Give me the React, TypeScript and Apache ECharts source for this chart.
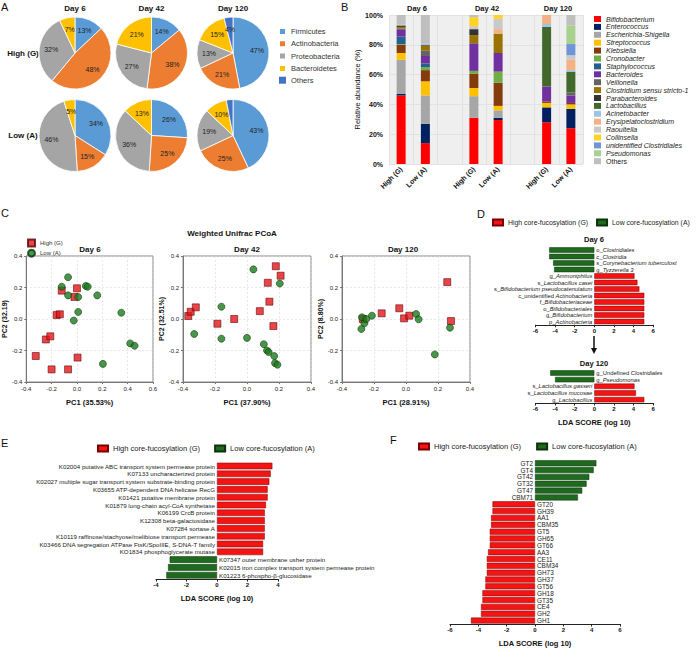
import React, { useEffect, useRef } from 'react';
import * as echarts from 'echarts';

const FONT = '"Liberation Sans", Arial, Helvetica, sans-serif';

// ---------- Panel A ----------
const phyla = ['Firmicutes', 'Actinobacteria', 'Proteobacteria', 'Bacteroidetes', 'Others'];
const phylaColors = ['#5B9BD5', '#ED7D31', '#A5A5A5', '#FFC000', '#4472C4'];
const pieDays = ['Day 6', 'Day 42', 'Day 120'];
const pieRows = ['High (G)', 'Low (A)'];
const pieHighG = [[13, 48, 32, 7, 0], [14, 38, 27, 21, 0], [47, 21, 13, 15, 4]];
const pieLowA = [[34, 15, 46, 5, 0], [26, 25, 36, 13, 0], [43, 25, 19, 10, 3]];

// ---------- Panel B ----------
const genera = [
  'Bifidobacterium', 'Enterococcus', 'Escherichia-Shigella', 'Streptococcus', 'Klebsiella',
  'Cronobacter', 'Staphylococcus', 'Bacteroides', 'Veillonella', 'Clostridium sensu stricto-1',
  'Parabacteroides', 'Lactobacillus', 'Acinetobacter', 'Erysipelatoclostridium', 'Raoultella',
  'Collinsella', 'unidentified Clostridiales', 'Pseudomonas', 'Others',
];
const generaColors = [
  '#FF0000', '#002060', '#A6A6A6', '#FFC000', '#843C0C',
  '#70AD47', '#255E91', '#7030A0', '#636363', '#997300',
  '#333333', '#43682B', '#9DC3E6', '#F4B183', '#C9C9C9',
  '#FFD320', '#6F95D8', '#A9D18E', '#BFBFBF',
];
const barSlots = ['D6G', 'D6A', 'gap1', 'D42G', 'D42A', 'gap2', 'D120G', 'D120A'];
const barSlotLabels = ['High (G)', 'Low (A)', '', 'High (G)', 'Low (A)', '', 'High (G)', 'Low (A)'];
const barDays = ['Day 6', 'Day 42', 'Day 120'];
const day6G = [46, 1, 23, 4.5, 5.5, 0.5, 5, 4.5, 1, 1, 1, 0, 0, 0, 1, 0, 0, 0, 6];
const day6A = [14, 13, 19, 9.5, 7.5, 2, 2.5, 5, 3.5, 3.5, 0.5, 0, 1, 0, 0, 0, 0, 0, 19];
const day42G = [31, 0, 14.5, 5.5, 9.5, 2, 0, 18.5, 0, 5.5, 4, 0, 0, 0, 2, 6, 0, 0, 1.5];
const day42A = [29.5, 1.5, 5, 3, 15.5, 7.5, 0, 12.5, 0, 13, 0, 0, 0, 3, 7, 2.5, 0, 0, 0];
const day120G = [28, 10, 0, 3, 1, 0, 0, 10, 0, 0, 0, 40, 2, 6, 0, 0, 0, 0, 0];
const day120A = [24, 13, 0, 3, 1, 0, 0, 5, 2, 0, 0, 14, 1, 7, 3, 0, 7.5, 12.5, 7];

// ---------- Panel C ----------
const pcoaDays = ['Day 6', 'Day 42', 'Day 120'];
const pc1Labels = ['PC1 (35.53%)', 'PC1 (37.90%)', 'PC1 (28.91%)'];
const pc2Labels = ['PC2 (32.19)', 'PC2 (32.51%)', 'PC2 (8.80%)'];
const day6High = [[-0.12, 0.18], [0.0, 0.195], [-0.02, 0.14], [-0.16, 0.025], [-0.135, 0.03], [-0.245, -0.13], [-0.21, -0.11], [-0.325, -0.235], [-0.2, -0.32], [-0.07, -0.32], [0.005, -0.245]];
const day6Low = [[-0.07, 0.265], [-0.12, 0.205], [-0.07, 0.15], [0.01, 0.14], [0.07, 0.21], [0.085, 0.205], [0.16, 0.15], [0.01, 0.045], [-0.025, -0.01], [0.35, 0.04], [0.42, -0.155], [0.455, -0.17], [0.205, -0.285]];
const day42High = [[0.18, 0.335], [0.21, 0.275], [0.13, 0.23], [0.14, 0.11], [0.08, 0.05], [-0.08, 0.0], [-0.367, 0.019], [-0.352, 0.046], [-0.32, 0.074], [-0.185, -0.03], [0.165, -0.045]];
const day42Low = [[0.04, 0.315], [0.205, 0.225], [-0.16, 0.078], [-0.33, -0.095], [-0.16, -0.125], [0.0, -0.12], [0.105, -0.16], [0.125, -0.2], [0.135, -0.21], [0.17, -0.235], [0.175, -0.28], [0.19, -0.29]];
const day120High = [[-0.27, 0.0], [-0.152, 0.036], [-0.042, 0.068], [-0.012, 0.004], [0.021, 0.021], [0.258, 0.234], [0.281, -0.013]];
const day120Low = [[-0.275, 0.011], [-0.26, -0.027], [-0.248, 0.0], [-0.213, 0.021], [0.063, 0.032], [0.079, -0.002], [0.275, -0.055], [-0.279, -0.063], [0.18, -0.225]];

// ---------- Panel D ----------
const ldaDay6Labels = ['o_Clostridiales', 'c_Clostridia', 's_Corynebacterium tuberculost', 'g_Tyzzerella 3', 'g_Ammoniphilus', 's_Lactobacillus casei', 's_Bifidobacterium pseudocatenulatum', 'c_unidentified Actinobacteria', 'f_Bifidobacteriaceae', 'o_Bifidobacteriales', 'g_Bifidobacterium', 'p_Actinobacteria'];
const ldaDay6Values = [-4.6, -4.6, -4.2, -4.1, 4.1, 4.4, 4.6, 5.1, 5.1, 5.1, 5.1, 5.1];
const ldaDay120Labels = ['g_Undefined Clostridiales', 'g_Pseudomonas', 's_Lactobacillus gasseri', 's_Lactobacillus mucosae', 'g_Lactobacillus'];
const ldaDay120Values = [-4.5, -4.0, 4.1, 4.25, 5.1];

// ---------- Panel E ----------
const keggLabels = [
  'K02004 putative ABC transport system permease protein', 'K07133 uncharacterized protein',
  'K02027 multiple sugar transport system substrate-binding protein', 'K03655 ATP-dependent DNA helicase RecG',
  'K01421 putative membrane protein', 'K01879 long-chain acyl-CoA synthetase', 'K06199 CrcB protein',
  'K12308 beta-galactosidase', 'K07284 sortase A', 'K10119 raffinose/stachyose/melibiose transport permease',
  'K03466 DNA segregation ATPase FtsK/SpoIIIE, S-DNA-T family', 'KO1834 phosphoglycerate mutase',
  'K07347 outer membrane usher protein', 'K02015 iron complex transport system permease protein',
  'K01223 6-phospho-β-glucosidase',
];
const keggValues = [3.63, 3.52, 3.43, 3.32, 3.32, 3.21, 3.13, 3.13, 3.13, 3.13, 3.02, 3.02, -3.1, -3.21, -3.32];

// ---------- Panel F ----------
const cazyLabels = ['GT2', 'GT4', 'GT42', 'GT32', 'GT47', 'CBM71', 'GT20', 'GH39', 'AA1', 'CBM35', 'GT5', 'GH65', 'GT66', 'AA3', 'CE11', 'CBM34', 'GH73', 'GH37', 'GT56', 'GH18', 'GT35', 'CE4', 'GH2', 'GH1'];
const cazyValues = [4.33, 4.14, 3.83, 3.64, 3.33, 3.03, -3.0, -3.0, -3.1, -3.1, -3.19, -3.19, -3.19, -3.31, -3.4, -3.4, -3.4, -3.5, -3.5, -3.71, -3.71, -3.81, -3.81, -4.52];

const HIGH = 'High core-fucosylation (G)';
const LOW = 'Low core-fucosylation (A)';
const RED = '#F41414';
const GREEN = '#1F6A1F';

function richName(name: string) {
  const m = name.match(/^([a-z]_)((?:unidentified|Undefined) )?(.*)$/);
  if (!m) return name;
  return `{n|${m[1]}${m[2] || ''}}{i|${m[3]}}`;
}

function buildOption() {
  const T = (text: string, x: number, y: number, size: number, weight = 'normal', align = 'center') => ({
    type: 'text', x, y, silent: true,
    style: { text, fontSize: size, fontWeight: weight, fontFamily: FONT, fill: '#111', align, verticalAlign: 'middle' },
  });

  const series: any[] = [];
  const grid: any[] = [];
  const xAxis: any[] = [];
  const yAxis: any[] = [];

  // ----- A: pies -----
  const pieCx = [75, 151.5, 233];
  const pieCy = [53, 135.5];
  const R = 36;
  [pieHighG, pieLowA].forEach((rowData, r) => {
    rowData.forEach((vals, d) => {
      const items = vals.map((v, i) => ({ name: phyla[i], value: v, color: phylaColors[i] })).filter((o) => o.value > 0);
      series.push({
        type: 'pie', name: `${pieRows[r]} ${pieDays[d]}`, center: [pieCx[d], pieCy[r]], radius: R,
        startAngle: 90, clockwise: true, silent: true,
        label: { show: false }, labelLine: { show: false },
        itemStyle: { borderColor: '#fff', borderWidth: 0.8 },
        data: items.map((o) => ({ name: o.name, value: o.value, itemStyle: { color: o.color } })),
      });
      // label-only ring so that the percentages sit a little further out, as in the reference
      series.push({
        type: 'pie', name: `${pieRows[r]} ${pieDays[d]} labels`, center: [pieCx[d], pieCy[r]], radius: [10, 32],
        startAngle: 90, clockwise: true, silent: true, z: 3,
        label: { show: true, position: 'inside', formatter: '{c}%', fontSize: 7, color: '#222', fontFamily: FONT },
        labelLine: { show: false },
        itemStyle: { color: 'rgba(0,0,0,0)', borderWidth: 0 },
        data: items.map((o) => ({ name: o.name, value: o.value })),
      });
    });
  });

  // ----- B: stacked bars -----
  grid.push({ left: 389, top: 15, width: 194, height: 149, show: true, backgroundColor: '#efefef', borderWidth: 0 });
  xAxis.push({
    gridIndex: 0, type: 'category', data: barSlots,
    axisLine: { show: false }, axisTick: { show: false },
    splitLine: { show: true, interval: 0, lineStyle: { color: '#e2e2e2', width: 1 } },
    axisLabel: {
      interval: 0, rotate: 45, fontSize: 7, fontWeight: 'bold', color: '#111', margin: 4, fontFamily: FONT,
      formatter: (v: string) => barSlotLabels[barSlots.indexOf(v)],
    },
  });
  yAxis.push({
    gridIndex: 0, type: 'value', min: 0, max: 100, interval: 20,
    axisLine: { show: false }, axisTick: { show: false },
    splitLine: { show: true, lineStyle: { color: '#e2e2e2' } },
    axisLabel: { formatter: '{value}%', fontSize: 7, fontWeight: 'bold', color: '#111', margin: 6, fontFamily: FONT },
    name: 'Relative abundance (%)', nameLocation: 'middle', nameGap: 24, nameRotate: 90,
    nameTextStyle: { fontSize: 7.5, color: '#111', fontFamily: FONT },
  });
  const samples = [day6G, day6A, null, day42G, day42A, null, day120G, day120A];
  genera.forEach((g, i) => {
    series.push({
      type: 'bar', name: g, stack: 'B', xAxisIndex: 0, yAxisIndex: 0, barWidth: 9, silent: true,
      itemStyle: { color: generaColors[i] },
      data: samples.map((s) => (s ? s[i] : '-')),
    });
  });

  // ----- C: PCoA scatter -----
  const cLeft = [26, 183, 342];
  const cWidth = [127, 128, 128];
  const cMax = [0.6, 0.4, 0.4];
  const highSets = [day6High, day42High, day120High];
  const lowSets = [day6Low, day42Low, day120Low];
  const fmt1 = (v: number) => (Math.abs(v) < 1e-9 ? '0.0' : v.toFixed(1));
  for (let d = 0; d < 3; d++) {
    const gi = grid.length;
    grid.push({ left: cLeft[d], top: 256, width: cWidth[d], height: 126, show: true, borderColor: '#888', borderWidth: 1 });
    xAxis.push({
      gridIndex: gi, type: 'value', min: -0.4, max: cMax[d], interval: 0.2,
      axisLine: { show: true, onZero: false, lineStyle: { color: '#777' } },
      axisTick: { show: true, length: 2, lineStyle: { color: '#777' } },
      splitLine: { show: true, lineStyle: { color: '#d8d8d8', type: [2, 2], width: 0.6 } },
      axisLabel: { fontSize: 6, color: '#222', margin: 4, formatter: fmt1, fontFamily: FONT },
      name: pc1Labels[d], nameLocation: 'middle', nameGap: 16,
      nameTextStyle: { fontSize: 7.5, fontWeight: 'bold', color: '#111', fontFamily: FONT },
    });
    yAxis.push({
      gridIndex: gi, type: 'value', min: -0.4, max: 0.4, interval: 0.2,
      axisLine: { show: true, onZero: false, lineStyle: { color: '#777' } },
      axisTick: { show: true, length: 2, lineStyle: { color: '#777' } },
      splitLine: { show: true, lineStyle: { color: '#d8d8d8', type: [2, 2], width: 0.6 } },
      axisLabel: { fontSize: 6, color: '#222', margin: 4, formatter: fmt1, fontFamily: FONT },
      name: pc2Labels[d], nameLocation: 'middle', nameGap: 18, nameRotate: 90,
      nameTextStyle: { fontSize: 7, fontWeight: 'bold', color: '#111', fontFamily: FONT },
    });
    series.push({
      type: 'scatter', name: 'High (G)', xAxisIndex: gi, yAxisIndex: gi, symbol: 'rect', symbolSize: 7, silent: true,
      itemStyle: { color: '#E4161C', borderColor: '#5a0000', borderWidth: 0.7 },
      data: highSets[d],
    });
    series.push({
      type: 'scatter', name: 'Low (A)', xAxisIndex: gi, yAxisIndex: gi, symbol: 'circle', symbolSize: 7, silent: true,
      itemStyle: { color: '#1B7A1B', borderColor: '#0b360b', borderWidth: 0.7 },
      data: lowSets[d],
    });
  }

  // ----- LDA helper -----
  const addLda = (
    gDef: any, labels: string[], values: number[], posIsHigh: boolean, barW: number, fontSize: number,
    min: number, max: number, axisName: string | null, rich: boolean,
  ) => {
    const gi = grid.length;
    grid.push(gDef);
    xAxis.push({
      gridIndex: gi, type: 'value', min, max, interval: 2,
      axisLine: { show: true, onZero: false, lineStyle: { color: '#222', width: 1 } },
      axisTick: { show: true, length: 2.5, lineStyle: { color: '#222' } },
      splitLine: { show: false },
      axisLabel: { fontSize: 6, fontWeight: 'bold', color: '#111', margin: 3, fontFamily: FONT },
      name: axisName || '', nameLocation: 'middle', nameGap: 15,
      nameTextStyle: { fontSize: 7.5, fontWeight: 'bold', color: '#111', fontFamily: FONT },
    });
    yAxis.push({
      gridIndex: gi, type: 'category', data: labels, inverse: true,
      axisLine: { show: false }, axisTick: { show: false }, axisLabel: { show: false }, splitLine: { show: false },
    });
    const mk = (positive: boolean) => {
      const isHigh = positive === posIsHigh;
      return {
        type: 'bar', name: isHigh ? HIGH : LOW, xAxisIndex: gi, yAxisIndex: gi, barWidth: barW, barGap: '-100%', silent: true,
        itemStyle: { color: isHigh ? RED : GREEN, borderColor: isHigh ? '#7a0000' : '#0b330b', borderWidth: 0.5 },
        label: {
          show: true, position: positive ? 'left' : 'right', distance: 2, fontSize, color: '#222', fontFamily: FONT,
          formatter: (p: any) => (rich ? richName(p.name) : p.name),
          rich: rich
            ? { n: { fontSize, color: '#222', fontFamily: FONT }, i: { fontSize, fontStyle: 'italic', color: '#222', fontFamily: FONT } }
            : undefined,
        },
        data: values.map((v) => (positive ? (v > 0 ? v : '-') : (v < 0 ? v : '-'))),
      };
    };
    series.push(mk(true));
    series.push(mk(false));
  };

  addLda({ left: 535.5, top: 246.75, width: 117.6, height: 78 }, ldaDay6Labels, ldaDay6Values, true, 5.4, 5.8, -6, 6, null, true);
  addLda({ left: 535.5, top: 369.6, width: 117.6, height: 33.4 }, ldaDay120Labels, ldaDay120Values, true, 5.4, 5.8, -6, 6, 'LDA SCORE (log 10)', true);
  addLda({ left: 156, top: 462.1, width: 122, height: 117 }, keggLabels, keggValues, true, 6.6, 6.2, -4, 4, 'LDA SCORE (log 10)', false);
  addLda({ left: 450, top: 459.8, width: 170, height: 168.5 }, cazyLabels, cazyValues, false, 6, 6.4, -6, 6, 'LDA SCORE (log 10)', false);

  const ldaLegend = (left: number, top: number, gap: number, size: number) => ({
    data: [HIGH, LOW], left, top, width: 260, padding: 0, orient: 'horizontal', icon: 'rect', itemWidth: 10, itemHeight: 6, itemGap: gap,
    selectedMode: false, textStyle: { fontSize: size, color: '#222', fontFamily: FONT },
  });

  const legend = [
    {
      data: phyla.map((p, i) => ({ name: p, itemStyle: { color: phylaColors[i] } })),
      orient: 'vertical', left: 278, top: 27, padding: 0, icon: 'rect', itemWidth: 7, itemHeight: 7, itemGap: 3.3, selectedMode: false,
      textStyle: { fontSize: 7.5, color: '#333', fontFamily: FONT },
    },
    {
      data: genera.map((g, i) => ({ name: g, itemStyle: { color: generaColors[i] } })),
      orient: 'vertical', left: 594, top: 15.5, padding: 0, icon: 'rect', itemWidth: 7, itemHeight: 6, itemGap: 0.9, selectedMode: false,
      formatter: (n: string) => (n === 'Others' ? `{n|${n}}` : n),
      textStyle: {
        fontSize: 7, lineHeight: 7, fontStyle: 'italic', color: '#222', fontFamily: FONT,
        rich: { n: { fontSize: 7, lineHeight: 7, fontStyle: 'normal', color: '#222', fontFamily: FONT } },
      },
    },
    {
      data: ['High (G)', 'Low (A)'], orient: 'vertical', left: 27, top: 238.5, padding: 0, itemWidth: 7, itemHeight: 7, itemGap: 1.2,
      selectedMode: false, textStyle: { fontSize: 6, color: '#333', fontFamily: FONT },
    },
    ldaLegend(492, 218.5, 8, 6.9),
    ldaLegend(97, 444.5, 14, 7.5),
    ldaLegend(418, 442.5, 15, 7.5),
  ];

  const graphic: any[] = [
    T('A', 1, 7, 11, 'normal', 'left'),
    T('B', 341, 7, 11, 'normal', 'left'),
    T('C', 1, 213, 11, 'normal', 'left'),
    T('D', 477, 214, 11, 'normal', 'left'),
    T('E', 1, 443, 11, 'normal', 'left'),
    T('F', 390, 440, 11, 'normal', 'left'),
    ...pieDays.map((d, i) => T(d, pieCx[i], 8, 8, 'bold')),
    T(pieRows[0], 23, 53, 8, 'bold'),
    T(pieRows[1], 23, 135.5, 8, 'bold'),
    T(barDays[0], 417, 8, 7.5, 'bold'),
    T(barDays[1], 487, 8, 7.5, 'bold'),
    T(barDays[2], 558, 8, 7.5, 'bold'),
    T('Weighted Unifrac PCoA', 232, 233, 8, 'bold'),
    T(pcoaDays[0], 90, 249, 8, 'bold'),
    T(pcoaDays[1], 247, 249, 8, 'bold'),
    T(pcoaDays[2], 403, 249, 8, 'bold'),
    T('Day 6', 594, 239.5, 7.5, 'bold'),
    T('Day 120', 594, 363.5, 7.5, 'bold'),
    { type: 'line', silent: true, shape: { x1: 594, y1: 336, x2: 594, y2: 349 }, style: { stroke: '#111', lineWidth: 1.5 } },
    { type: 'polygon', silent: true, shape: { points: [[591, 348], [597, 348], [594, 354]] }, style: { fill: '#111' } },
  ];

  return {
    animation: false,
    backgroundColor: '#ffffff',
    textStyle: { fontFamily: FONT },
    grid, xAxis, yAxis, legend, series, graphic,
  };
}

export default function App() {
  const ref = useRef<HTMLDivElement>(null);
  useEffect(() => {
    if (!ref.current) return;
    const chart = echarts.init(ref.current, undefined, { renderer: 'svg' });
    chart.setOption(buildOption() as any);
    return () => chart.dispose();
  }, []);
  return (
    <div
      ref={ref}
      style={{ position: 'absolute', left: 0, top: 0, width: 696, height: 648, background: '#fff' }}
    />
  );
}
